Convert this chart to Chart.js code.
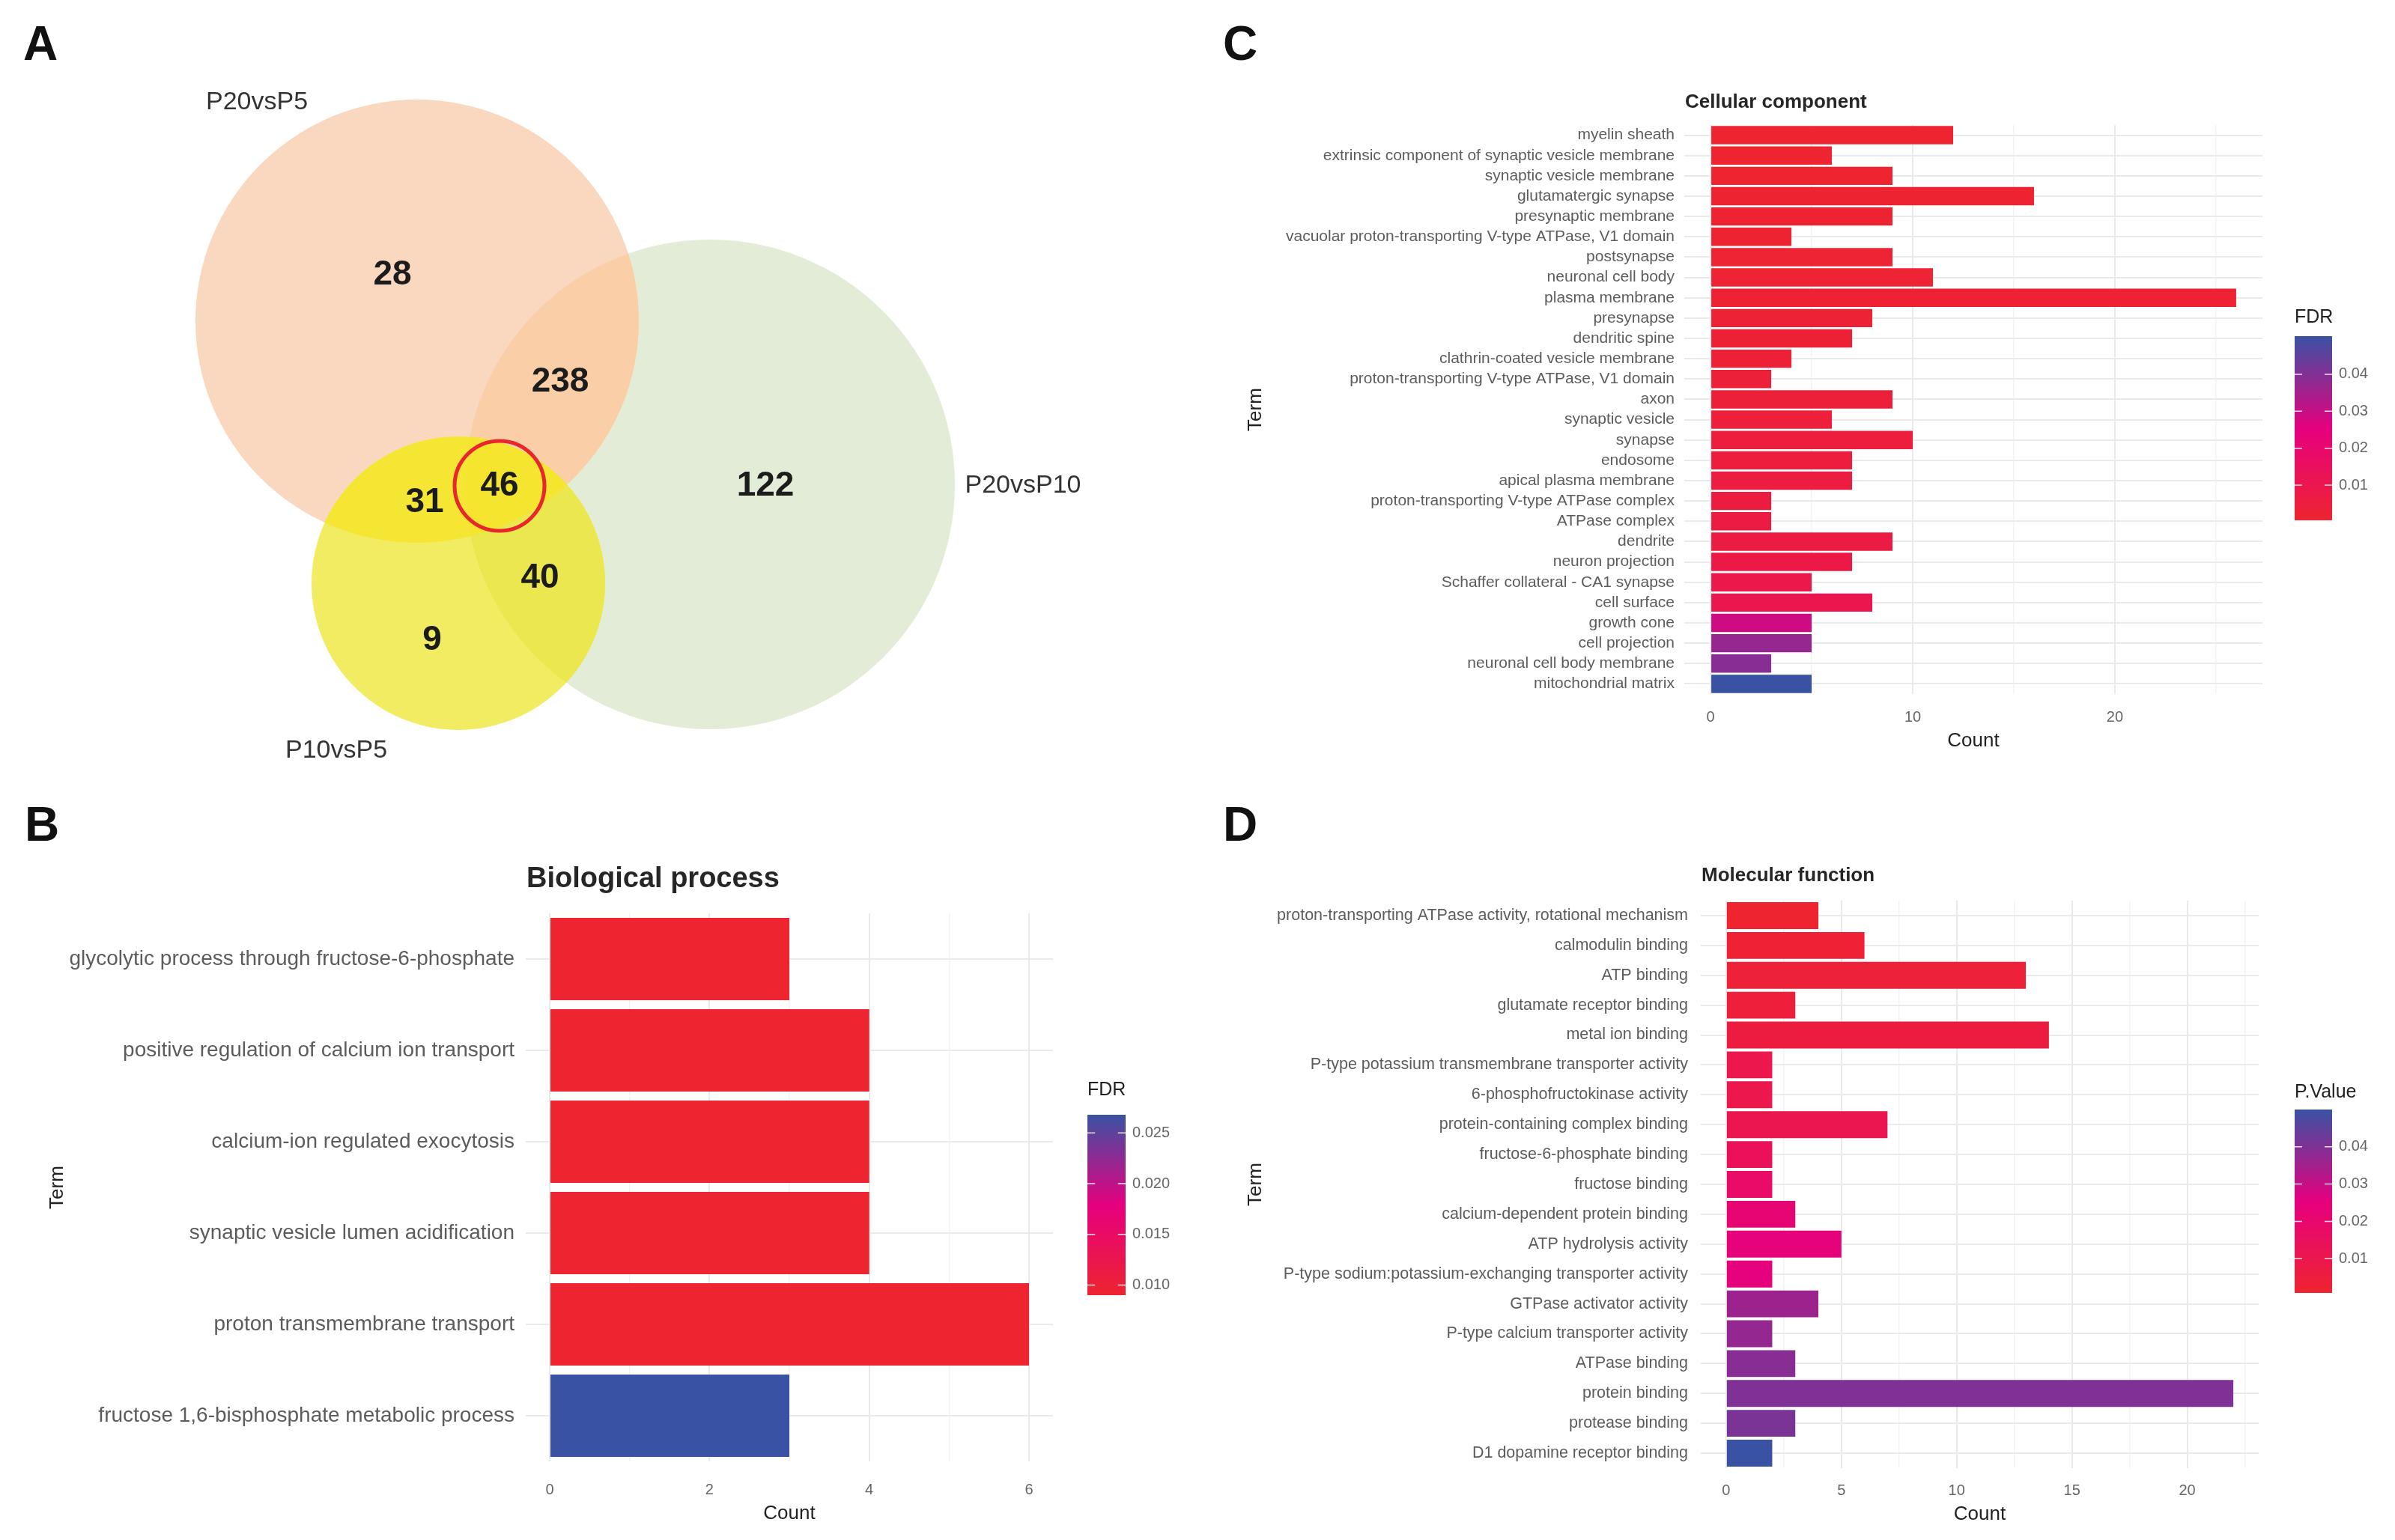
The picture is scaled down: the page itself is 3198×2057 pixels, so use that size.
<!DOCTYPE html>
<html><head><meta charset="utf-8">
<script src="https://cdn.jsdelivr.net/npm/chart.js@4.4.1/dist/chart.umd.min.js"></script>
<style>
html,body{margin:0;padding:0;background:#fff;}
#fig{position:relative;width:3198px;height:2057px;background:#fff;overflow:hidden;}
.panel{position:absolute;}
.tag{position:absolute;font:bold 64px 'Liberation Sans',Arial,sans-serif;color:#111;transform:translate(-50%,-50%);line-height:1;}
</style></head><body>
<div id="fig">
  <div class="panel" style="left:0px;top:0px;width:1600px;height:1090px"><canvas id="cA"></canvas></div>
  <div class="panel" style="left:0px;top:1090px;width:1600px;height:967px"><canvas id="cB"></canvas></div>
  <div class="panel" style="left:1600px;top:0px;width:1598px;height:1090px"><canvas id="cC"></canvas></div>
  <div class="panel" style="left:1600px;top:1090px;width:1598px;height:967px"><canvas id="cD"></canvas></div>
  <div class="tag" style="left:54px;top:58px">A</div>
  <div class="tag" style="left:56px;top:1101px">B</div>
  <div class="tag" style="left:1656px;top:58px">C</div>
  <div class="tag" style="left:1656px;top:1101px">D</div>
</div>
<script>
// ---------------- DATA ----------------
// Panel A: Venn diagram
const vennSetNames = ['P20vsP5', 'P20vsP10', 'P10vsP5'];
const vennCircleX = [5.57, 9.48, 6.12];
const vennCircleY = [4.29, 6.47, 7.79];
const vennCircleR = [2.96, 3.27, 1.96];
const vennSetLabelX = [3.43, 13.66, 4.49];
const vennSetLabelY = [1.37, 6.49, 10.03];
const vennRegionCounts = [28, 238, 122, 31, 46, 40, 9];
const vennRegionX = [5.24, 7.48, 10.22, 5.67, 6.67, 7.21, 5.77];
const vennRegionY = [3.67, 5.10, 6.49, 6.71, 6.49, 7.72, 8.55];
const vennHighlightIndex = 4;
const vennHighlightR = 0.60;
const vennXRange = [0, 16];
const vennYRange = [0, 10.9];

// Panel B: Biological process
const bpTerms = ['glycolytic process through fructose-6-phosphate', 'positive regulation of calcium ion transport',
  'calcium-ion regulated exocytosis', 'synaptic vesicle lumen acidification', 'proton transmembrane transport',
  'fructose 1,6-bisphosphate metabolic process'];
const bpCounts = [3, 4, 4, 4, 6, 3];
const bpFDR = [0.009, 0.009, 0.009, 0.009, 0.009, 0.0268];
const bpLegendTicks = [0.010, 0.015, 0.020, 0.025];
const bpCountTicks = [0, 2, 4, 6];

// Panel C: Cellular component
const ccTerms = ['myelin sheath', 'extrinsic component of synaptic vesicle membrane', 'synaptic vesicle membrane',
  'glutamatergic synapse', 'presynaptic membrane', 'vacuolar proton-transporting V-type ATPase, V1 domain',
  'postsynapse', 'neuronal cell body', 'plasma membrane', 'presynapse', 'dendritic spine',
  'clathrin-coated vesicle membrane', 'proton-transporting V-type ATPase, V1 domain', 'axon', 'synaptic vesicle',
  'synapse', 'endosome', 'apical plasma membrane', 'proton-transporting V-type ATPase complex', 'ATPase complex',
  'dendrite', 'neuron projection', 'Schaffer collateral - CA1 synapse', 'cell surface', 'growth cone',
  'cell projection', 'neuronal cell body membrane', 'mitochondrial matrix'];
const ccCounts = [12, 6, 9, 16, 9, 4, 9, 11, 26, 8, 7, 4, 3, 9, 6, 10, 7, 7, 3, 3, 9, 7, 5, 8, 5, 5, 3, 5];
const ccFDR = [0.0005, 0.0006, 0.0008, 0.0009, 0.0010, 0.0012, 0.0014, 0.0015, 0.0016, 0.0020, 0.0025,
  0.0030, 0.0035, 0.0035, 0.0040, 0.0045, 0.0050, 0.0055, 0.0060, 0.0065, 0.0070, 0.0080, 0.0090, 0.0100,
  0.0290, 0.0370, 0.0390, 0.0503];
const ccLegendTicks = [0.01, 0.02, 0.03, 0.04];
const ccCountTicks = [0, 10, 20];

// Panel D: Molecular function
const mfTerms = ['proton-transporting ATPase activity, rotational mechanism', 'calmodulin binding', 'ATP binding',
  'glutamate receptor binding', 'metal ion binding', 'P-type potassium transmembrane transporter activity',
  '6-phosphofructokinase activity', 'protein-containing complex binding', 'fructose-6-phosphate binding',
  'fructose binding', 'calcium-dependent protein binding', 'ATP hydrolysis activity',
  'P-type sodium:potassium-exchanging transporter activity', 'GTPase activator activity',
  'P-type calcium transporter activity', 'ATPase binding', 'protein binding', 'protease binding',
  'D1 dopamine receptor binding'];
const mfCounts = [4, 6, 13, 3, 14, 2, 2, 7, 2, 2, 3, 5, 2, 4, 2, 3, 22, 3, 2];
const mfPValue = [0.0008, 0.002, 0.003, 0.004, 0.006, 0.010, 0.010, 0.011, 0.014, 0.018, 0.022, 0.024,
  0.025, 0.036, 0.037, 0.039, 0.040, 0.041, 0.0500];
const mfLegendTicks = [0.01, 0.02, 0.03, 0.04];
const mfCountTicks = [0, 5, 10, 15, 20];

// ---------------- STYLE HELPERS ----------------
const FONT = "'Liberation Sans', Arial, sans-serif";
Chart.defaults.font.family = FONT;
const gradStops = [[238, 36, 48], [230, 0, 126], [58, 82, 164]];
function gradColor(t) {
  t = Math.max(0, Math.min(1, t));
  const seg = t < 0.5 ? 0 : 1;
  const u = seg === 0 ? t / 0.5 : (t - 0.5) / 0.5;
  const a = gradStops[seg], b = gradStops[seg + 1];
  const c = a.map((v, i) => Math.round(v + (b[i] - v) * u));
  return `rgb(${c[0]},${c[1]},${c[2]})`;
}

const panelDecor = {
  id: 'panelDecor',
  afterDraw(chart, args, o) {
    const ctx = chart.ctx, ca = chart.chartArea;
    ctx.save();
    ctx.fillStyle = '#262626';
    ctx.font = `bold ${o.titleSize}px ${FONT}`;
    ctx.textAlign = 'left'; ctx.textBaseline = 'middle';
    ctx.fillText(o.title, ca.left + 1, o.titleY);
    const L = o.legend;
    const g = ctx.createLinearGradient(0, L.y1, 0, L.y0);
    gradStops.forEach((s, i) => g.addColorStop(i / (gradStops.length - 1), `rgb(${s[0]},${s[1]},${s[2]})`));
    ctx.fillStyle = g;
    ctx.fillRect(L.x, L.y0, L.w, L.y1 - L.y0);
    ctx.font = `${L.labelSize}px ${FONT}`;
    ctx.textAlign = 'left';
    L.ticks.forEach(v => {
      const y = L.y1 - (v - L.min) / (L.max - L.min) * (L.y1 - L.y0);
      ctx.strokeStyle = 'rgba(255,255,255,0.85)'; ctx.lineWidth = 1.5;
      ctx.beginPath();
      ctx.moveTo(L.x, y); ctx.lineTo(L.x + L.w * 0.2, y);
      ctx.moveTo(L.x + L.w * 0.8, y); ctx.lineTo(L.x + L.w, y);
      ctx.stroke();
      ctx.fillStyle = '#666';
      ctx.fillText(v.toFixed(L.digits), L.x + L.w + 9, y);
    });
    ctx.fillStyle = '#222';
    ctx.font = `${L.titleSize}px ${FONT}`;
    ctx.fillText(L.title, L.x, L.titleY);
    ctx.restore();
  }
};

function makeBar(id, cfg) {
  const cmin = Math.min(...cfg.colorVals), cmax = Math.max(...cfg.colorVals);
  const colors = cfg.colorVals.map(v => gradColor((v - cmin) / (cmax - cmin)));
  const maxCount = Math.max(...cfg.counts);
  const xMin = -0.05 * maxCount, xMax = 1.05 * maxCount;
  const step = cfg.countTicks[1] - cfg.countTicks[0];
  const gridVals = [];
  for (let v = 0; v <= xMax + 1e-9; v += step / 2) gridVals.push(+v.toFixed(6));
  const isMajor = v => cfg.countTicks.some(t => Math.abs(t - v) < 1e-6);
  const A = cfg.area, W = cfg.w, H = cfg.h;
  return new Chart(document.getElementById(id), {
    type: 'bar',
    data: { labels: cfg.terms, datasets: [{ data: cfg.counts, backgroundColor: colors, borderWidth: 0,
      barPercentage: 0.9, categoryPercentage: 1.0 }] },
    options: {
      indexAxis: 'y', responsive: true, maintainAspectRatio: false, animation: false,
      devicePixelRatio: 1, events: [],
      layout: { padding: { left: 0, top: A.top, right: W - A.right, bottom: 0 } },
      plugins: {
        legend: { display: false }, tooltip: { enabled: false }, title: { display: false },
        panelDecor: { title: cfg.title, titleSize: cfg.titleSize, titleY: cfg.titleY,
          legend: Object.assign({ min: cmin, max: cmax }, cfg.legend) }
      },
      scales: {
        x: {
          type: 'linear', min: xMin, max: xMax, position: 'bottom',
          afterFit: s => { s.height = H - A.bottom; },
          afterBuildTicks: s => { s.ticks = gridVals.map(v => ({ value: v })); },
          ticks: { callback: v => isMajor(v) ? String(Math.round(v)) : '', font: { size: cfg.xTickSize },
            color: '#666', padding: cfg.xTickPad, maxRotation: 0, autoSkip: false },
          grid: { color: c => isMajor(c.tick.value) ? '#EAEAEA' : '#F3F3F3',
            lineWidth: c => isMajor(c.tick.value) ? 2 : 1.5, drawTicks: false },
          border: { display: false },
          title: { display: true, text: 'Count', font: { size: cfg.axisTitleSize }, color: '#222',
            padding: { top: 0, bottom: cfg.countPad } }
        },
        y: {
          type: 'category', position: 'left',
          afterFit: s => { s.width = A.left; },
          ticks: { font: { size: cfg.yTickSize }, color: '#5c5c5c', padding: cfg.yTickPad, autoSkip: false },
          grid: { offset: false, drawTicks: false, color: '#EAEAEA', lineWidth: 2 },
          border: { display: false },
          title: { display: true, text: 'Term', font: { size: cfg.axisTitleSize }, color: '#222',
            padding: { top: cfg.termPad, bottom: 0 } }
        }
      }
    },
    plugins: [panelDecor]
  });
}

// ---------------- PANEL A (Venn) ----------------
const vennFills = ['#FAD8C0', '#E3ECD6', '#F2EC62'];
const venn = { W: 1600, H: 1090 };
const pxPerUnit = venn.W / (vennXRange[1] - vennXRange[0]);
function circlePath(ctx, el) {
  ctx.beginPath();
  ctx.arc(el.x, el.y, el.options.radius, 0, Math.PI * 2);
}
const vennOverlaps = {
  id: 'vennOverlaps',
  afterDatasetDraw(chart, args) {
    const ctx = chart.ctx;
    const el = k => chart.getDatasetMeta(k).data[0];
    // dataset indices: 0 ring, 1 yellow (P10vsP5), 2 peach (P20vsP5), 3 green (P20vsP10)
    const fillInter = (clipIdx, fillIdx, color) => {
      ctx.save();
      clipIdx.forEach(k => { circlePath(ctx, el(k)); ctx.clip(); });
      circlePath(ctx, el(fillIdx)); ctx.fillStyle = color; ctx.fill();
      ctx.restore();
    };
    if (args.index === 2) {
      fillInter([3], 2, '#FACFA8');
    } else if (args.index === 1) {
      fillInter([2], 1, '#F6E634');
      fillInter([3], 1, '#EBE84F');
      fillInter([2, 3], 1, '#F5E52E');
    }
  },
  afterDatasetsDraw(chart) {
    const ctx = chart.ctx, sx = chart.scales.x, sy = chart.scales.y;
    ctx.save();
    ctx.textAlign = 'center'; ctx.textBaseline = 'middle';
    ctx.fillStyle = '#1c1c1c';
    ctx.font = `bold 46px ${FONT}`;
    vennRegionCounts.forEach((n, i) => {
      ctx.fillText(String(n), sx.getPixelForValue(vennRegionX[i]), sy.getPixelForValue(vennRegionY[i]));
    });
    ctx.fillStyle = '#333';
    ctx.font = `34px ${FONT}`;
    vennSetNames.forEach((s, i) => {
      ctx.fillText(s, sx.getPixelForValue(vennSetLabelX[i]), sy.getPixelForValue(vennSetLabelY[i]));
    });
    ctx.restore();
  }
};
const circleData = k => [{ x: vennCircleX[k], y: vennCircleY[k], r: vennCircleR[k] * pxPerUnit }];
new Chart(document.getElementById('cA'), {
  type: 'bubble',
  data: {
    datasets: [
      { label: 'highlight', data: [{ x: vennRegionX[vennHighlightIndex], y: vennRegionY[vennHighlightIndex], r: vennHighlightR * pxPerUnit }],
        backgroundColor: 'rgba(0,0,0,0)', borderColor: '#E8262E', borderWidth: 5, clip: false },
      { label: vennSetNames[2], data: circleData(2), backgroundColor: vennFills[2], borderColor: vennFills[2], borderWidth: 0, clip: false },
      { label: vennSetNames[0], data: circleData(0), backgroundColor: vennFills[0], borderColor: vennFills[0], borderWidth: 0, clip: false },
      { label: vennSetNames[1], data: circleData(1), backgroundColor: vennFills[1], borderColor: vennFills[1], borderWidth: 0, clip: false }
    ]
  },
  options: {
    responsive: true, maintainAspectRatio: false, animation: false, devicePixelRatio: 1, events: [],
    layout: { padding: 0, autoPadding: false },
    plugins: { legend: { display: false }, tooltip: { enabled: false } },
    scales: {
      x: { type: 'linear', min: vennXRange[0], max: vennXRange[1], display: false },
      y: { type: 'linear', min: vennYRange[0], max: vennYRange[1], reverse: true, display: false }
    }
  },
  plugins: [vennOverlaps]
});

// ---------------- PANELS B, C, D ----------------
makeBar('cB', {
  w: 1600, h: 967, area: { left: 702, top: 130, right: 1406, bottom: 862 },
  terms: bpTerms, counts: bpCounts, colorVals: bpFDR, countTicks: bpCountTicks,
  title: 'Biological process', titleSize: 38, titleY: 85,
  xTickSize: 20, yTickSize: 28, axisTitleSize: 26, xTickPad: 26, yTickPad: 15, countPad: 20, termPad: 61,
  legend: { title: 'FDR', titleY: 366, titleSize: 25, x: 1452, w: 51, y0: 399, y1: 640, ticks: bpLegendTicks, digits: 3, labelSize: 20 }
});
makeBar('cC', {
  w: 1598, h: 1090, area: { left: 649, top: 167, right: 1421, bottom: 927 },
  terms: ccTerms, counts: ccCounts, colorVals: ccFDR, countTicks: ccCountTicks,
  title: 'Cellular component', titleSize: 26, titleY: 137,
  xTickSize: 20, yTickSize: 21, axisTitleSize: 26, xTickPad: 19, yTickPad: 13, countPad: 85, termPad: 61,
  legend: { title: 'FDR', titleY: 424, titleSize: 25, x: 1464, w: 50, y0: 449, y1: 695, ticks: ccLegendTicks, digits: 2, labelSize: 20 }
});
makeBar('cD', {
  w: 1598, h: 967, area: { left: 671, top: 113, right: 1416, bottom: 871 },
  terms: mfTerms, counts: mfCounts, colorVals: mfPValue, countTicks: mfCountTicks,
  title: 'Molecular function', titleSize: 26, titleY: 80,
  xTickSize: 20, yTickSize: 21.5, axisTitleSize: 26, xTickPad: 18, yTickPad: 17, countPad: 19, termPad: 61,
  legend: { title: 'P.Value', titleY: 369, titleSize: 25, x: 1464, w: 50, y0: 392, y1: 637, ticks: mfLegendTicks, digits: 2, labelSize: 20 }
});
</script>
</body></html>
